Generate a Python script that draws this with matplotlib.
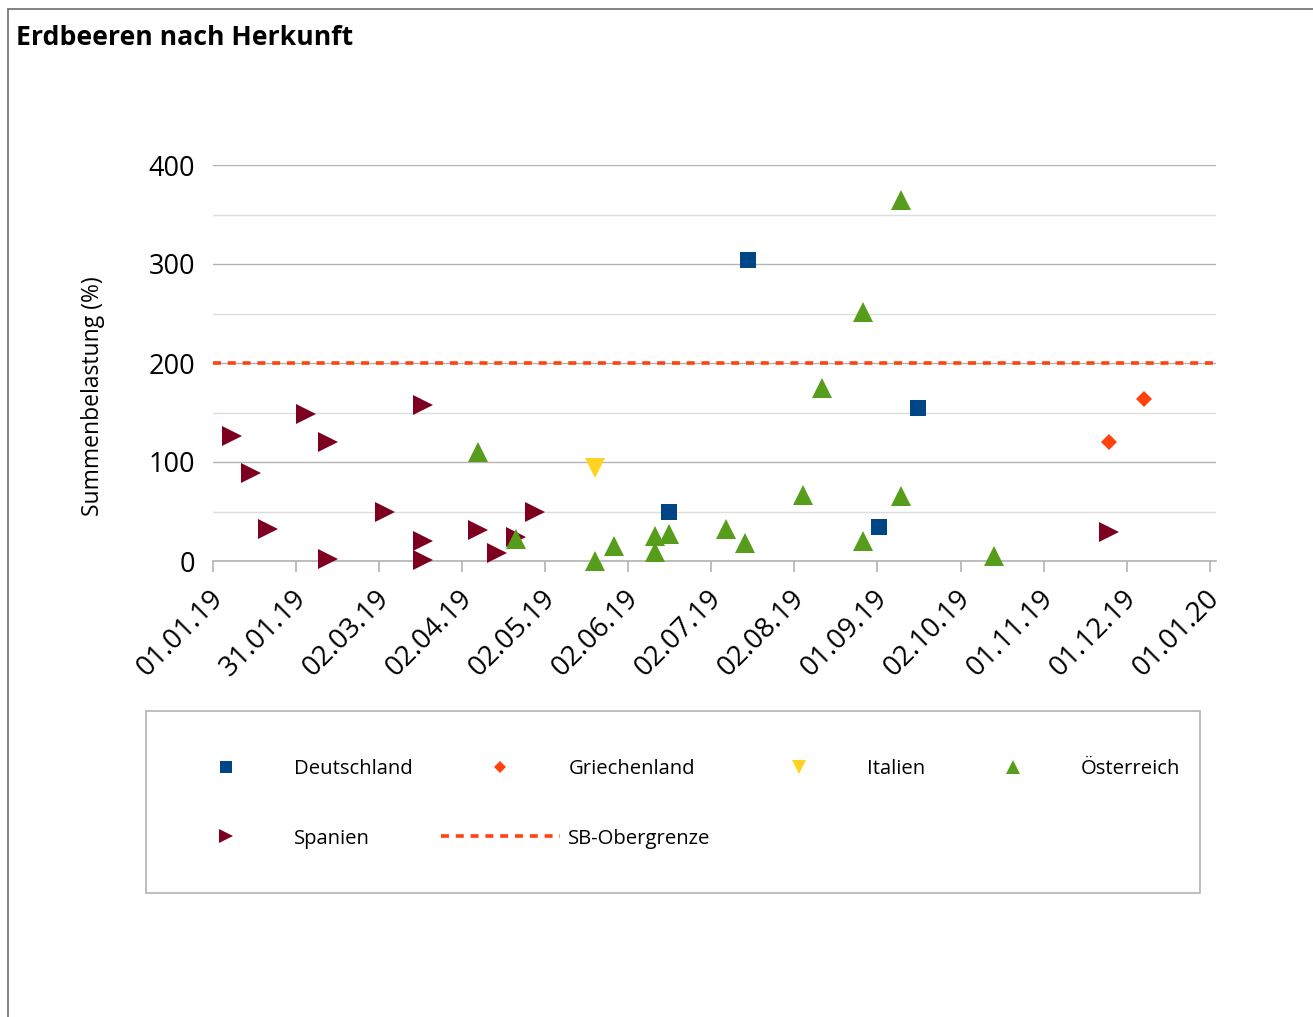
import matplotlib
matplotlib.use('Agg')
import matplotlib.pyplot as plt
import matplotlib.transforms as mtransforms
from matplotlib.patches import Rectangle
import numpy as np
import pandas as pd

plt.rcParams['font.family'] = ['Open Sans', 'DejaVu Sans']

# Daten
deutschland_dates = ["2019-06-17", "2019-07-16", "2019-09-02", "2019-09-16"]
deutschland_vals = [49, 304, 34, 155]

griechenland_dates = ["2019-11-25", "2019-12-08"]
griechenland_vals = [120, 164]

italien_dates = ["2019-05-21"]
italien_vals = [94]

oesterreich_dates = ["2019-04-08", "2019-04-22", "2019-05-21", "2019-05-28",
                     "2019-06-12", "2019-06-12", "2019-06-17", "2019-07-08",
                     "2019-07-15", "2019-08-05", "2019-08-12", "2019-08-27",
                     "2019-08-27", "2019-09-10", "2019-09-10", "2019-10-14"]
oesterreich_vals = [110, 22, 0, 15, 25, 9, 27, 32, 18, 67, 175, 252, 20, 365, 66, 5]

spanien_dates = ["2019-01-08", "2019-01-15", "2019-01-21", "2019-02-04",
                 "2019-02-12", "2019-02-12", "2019-03-05", "2019-03-19",
                 "2019-03-19", "2019-03-19", "2019-04-08", "2019-04-15",
                 "2019-04-22", "2019-04-29", "2019-11-25"]
spanien_vals = [126, 89, 32, 148, 120, 2, 50, 158, 20, 1, 31, 8, 24, 50, 29]

sb_grenze = 200

tick_labels = ["01.01.19", "31.01.19", "02.03.19", "02.04.19", "02.05.19",
               "02.06.19", "02.07.19", "02.08.19", "01.09.19", "02.10.19",
               "01.11.19", "01.12.19", "01.01.20"]

start = pd.Timestamp("2019-01-01")


def to_days(dates):
    return (pd.to_datetime(dates) - start).days.values


W, H = 1313, 1017
fig = plt.figure(figsize=(W / 100, H / 100), dpi=100)
ax = fig.add_axes([213 / W, 1 - 561 / H, (1216 - 213) / W, (561 - 165) / H])

ms_tri = 14.4
h_sb, = ax.plot([0, 367.3], [sb_grenze, sb_grenze], color='#ff420e', lw=2.6,
                dashes=(2.2, 1.9), zorder=2)
h_de, = ax.plot(to_days(deutschland_dates), deutschland_vals, ls='none', marker='s',
                ms=11.5, color='#004586', mew=0, zorder=3, clip_on=False)
h_gr, = ax.plot(to_days(griechenland_dates), griechenland_vals, ls='none', marker='D',
                ms=7.8, color='#ff420e', mew=0, zorder=3, clip_on=False)
h_it, = ax.plot(to_days(italien_dates), italien_vals, ls='none', marker='v',
                ms=ms_tri, color='#ffd320', mew=0, zorder=3, clip_on=False)
h_es, = ax.plot(to_days(spanien_dates), spanien_vals, ls='none', marker='>',
                ms=ms_tri, color='#7e0021', mew=0, zorder=3, clip_on=False)
h_at, = ax.plot(to_days(oesterreich_dates), oesterreich_vals, ls='none', marker='^',
                ms=ms_tri, color='#579d1c', mew=0, zorder=4, clip_on=False)

ax.set_xlim(0, 367.3)
ax.set_ylim(0, 400)

# Achsen
for s in ['top', 'right', 'left']:
    ax.spines[s].set_visible(False)
ax.spines['bottom'].set_color('#b3b3b3')
ax.spines['bottom'].set_linewidth(1.2)

ax.set_yticks([0, 100, 200, 300, 400])
ax.set_yticks([50, 150, 250, 350], minor=True)
ax.tick_params(axis='y', which='both', length=0, pad=13, labelsize=19.5)
ax.grid(axis='y', which='major', color='#b3b3b3', lw=1.0)
ax.grid(axis='y', which='minor', color='#dddddd', lw=1.0)
ax.set_axisbelow(True)

ax.set_xticks(np.arange(len(tick_labels)) * 365 / 12)
ax.set_xticklabels(tick_labels, rotation=45, ha='right', va='center',
                   rotation_mode='anchor', fontsize=20)
ax.tick_params(axis='x', length=8, width=1.2, color='#b3b3b3', pad=16)
offset = mtransforms.ScaledTranslation(6 / 100, 0, fig.dpi_scale_trans)
for lab in ax.get_xticklabels():
    lab.set_transform(lab.get_transform() + offset)

ax.set_ylabel('Summenbelastung (%)', fontsize=16.5)
ax.yaxis.set_label_coords(-0.108, 0.417)

# Titel
fig.text(16 / W, 1 - 38 / H, 'Erdbeeren nach Herkunft', fontsize=19.2,
         fontweight='bold', ha='left', va='center')

# Rahmen um das Diagramm
fig.patches.append(Rectangle((8 / W, -0.1), 2, 1.1 - 9 / H, transform=fig.transFigure,
                             fill=False, edgecolor='#777777', lw=1.3))

# Legende
fig.patches.append(Rectangle((146 / W, 1 - 893 / H), (1200 - 146) / W, (893 - 711) / H,
                             transform=fig.transFigure, fill=False,
                             edgecolor='#b3b3b3', lw=1.2))
handles = [h_de, h_es, h_gr, h_sb, h_it, h_at]
labels = ['Deutschland', 'Spanien', 'Griechenland', 'SB-Obergrenze', 'Italien', 'Österreich']
fig.legend(handles, labels, loc='upper left', ncol=4, mode='expand',
           bbox_to_anchor=(166 / W, 1 - 769 / H, (1180 - 166) / W, 0.01),
           frameon=False, fontsize=14.6, borderpad=0, borderaxespad=0,
           handlelength=5.9, handletextpad=0.4, labelspacing=2.45,
           markerscale=0.72, columnspacing=1.4)

fig.savefig('out.png', dpi=100)
